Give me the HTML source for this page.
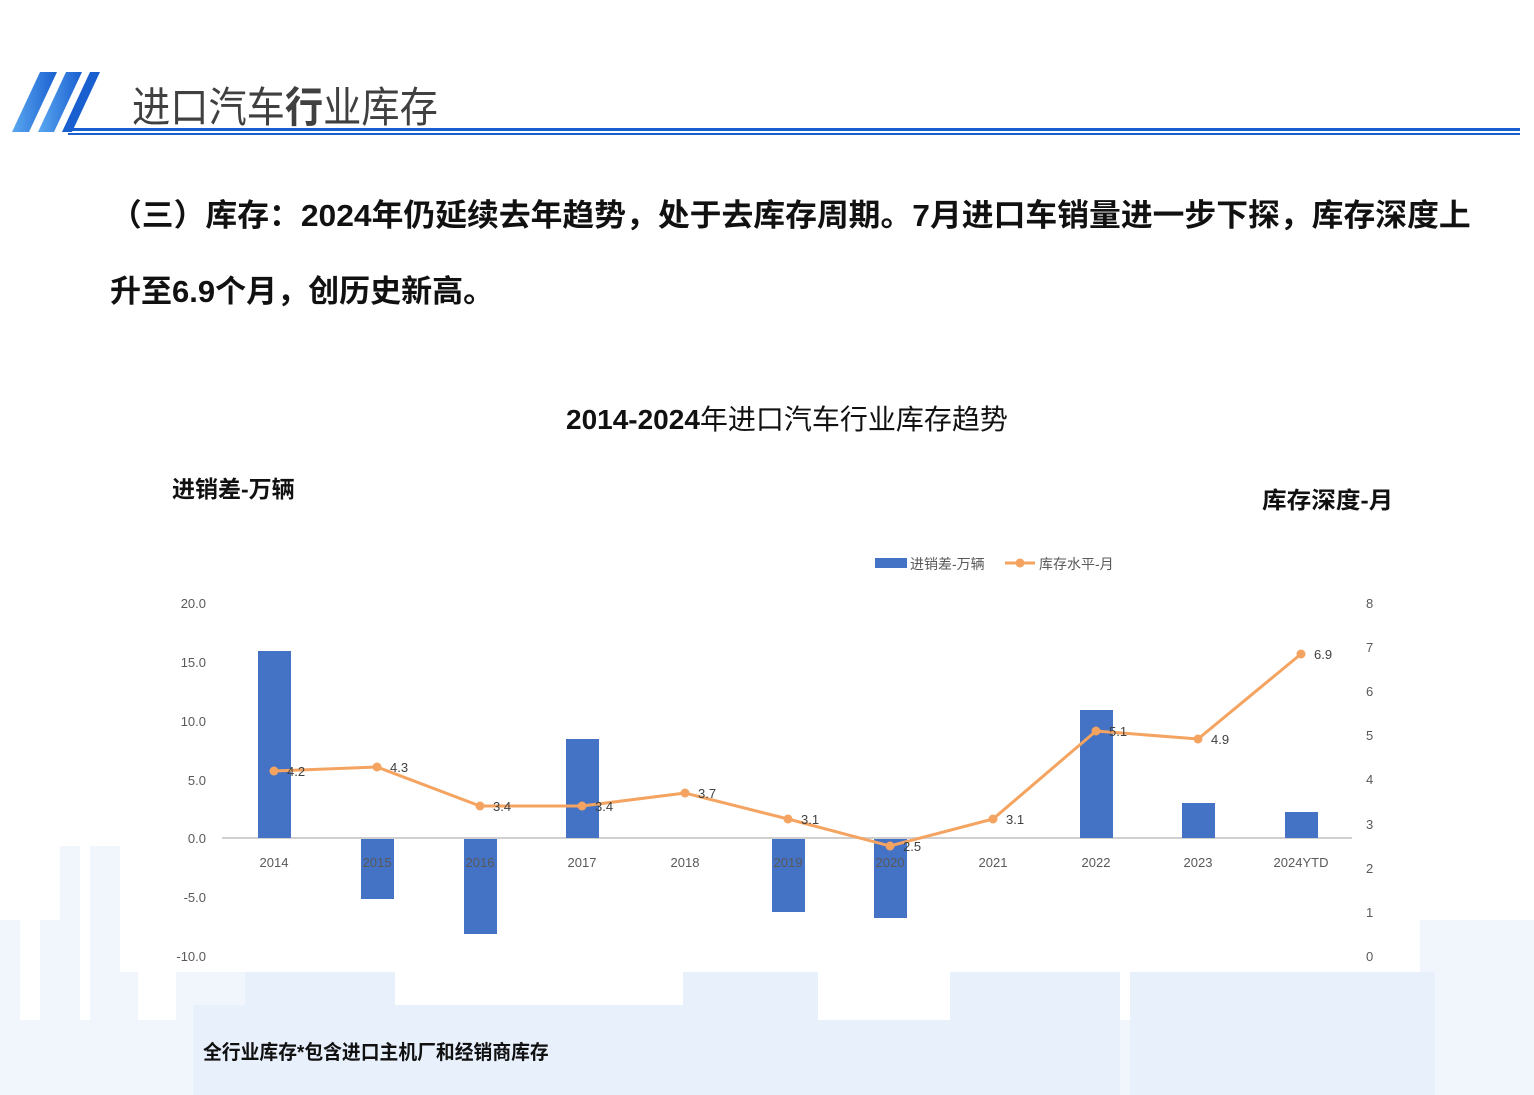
<!DOCTYPE html>
<html><head><meta charset="utf-8"><style>
body{margin:0;width:1534px;height:1095px;background:#fff;overflow:hidden;font-family:"Liberation Sans","Noto Sans CJK SC",sans-serif;position:relative}
.t{position:absolute;white-space:nowrap;transform-origin:0 0}
</style></head><body>
<svg width="1534" height="1095" style="position:absolute;left:0;top:0">
<defs><linearGradient id="g" x1="0" x2="1"><stop offset="0" stop-color="#5aa8f0"/><stop offset="1" stop-color="#1a5fd0"/></linearGradient></defs>
<g fill="#f1f6fd">
<rect x="0" y="920" width="20" height="175"/><rect x="40" y="920" width="20" height="175"/>
<rect x="60" y="846" width="20" height="249"/><rect x="90" y="846" width="30" height="249"/>
<rect x="0" y="1020" width="1534" height="75"/>
<rect x="98" y="972" width="40" height="123"/><rect x="176" y="972" width="120" height="123"/>
<rect x="1420" y="920" width="114" height="175"/><rect x="1350" y="980" width="80" height="115"/>
</g>
<g fill="#e8f0fc">
<rect x="245" y="972" width="150" height="123"/><rect x="193" y="1005" width="160" height="90"/>
<rect x="395" y="1005" width="210" height="90"/>
<rect x="420" y="1005" width="300" height="90"/><rect x="683" y="972" width="135" height="123"/>
<rect x="818" y="1020" width="140" height="75"/><rect x="950" y="972" width="170" height="123"/>
<rect x="1130" y="972" width="230" height="123"/><rect x="1225" y="972" width="210" height="123"/>
</g>
<polygon points="12,132 40,72 57,72 29,132" fill="url(#g)"/>
<polygon points="38,132 66,72 82,72 54,132" fill="url(#g)"/>
<polygon points="62,132 90,72 100,72 72,132" fill="#1a5fd0"/>
<rect x="68" y="128" width="1452" height="3" fill="#1a5fd0"/>
<rect x="68" y="133" width="1452" height="2" fill="#1a5fd0"/>
<line x1="222" y1="838" x2="1352" y2="838" stroke="#d0d0d0" stroke-width="2"/>
<g fill="#4472c4">
<rect x="258" y="651" width="33" height="187"/>
<rect x="361" y="839" width="33" height="60"/>
<rect x="464" y="839" width="33" height="95"/>
<rect x="566" y="739" width="33" height="99"/>
<rect x="772" y="839" width="33" height="73"/>
<rect x="874" y="839" width="33" height="79"/>
<rect x="1080" y="710" width="33" height="128"/>
<rect x="1182" y="803" width="33" height="35"/>
<rect x="1285" y="812" width="33" height="26"/>
</g>
<polyline fill="none" stroke="#f4a460" stroke-width="3" points="274,771 377,767 480,806 582,806 685,793 788,819 890,846 993,819 1096,731 1198,739 1301,654"/>
<g fill="#f4a460">
<circle cx="274" cy="771" r="4.5"/><circle cx="377" cy="767" r="4.5"/><circle cx="480" cy="806" r="4.5"/><circle cx="582" cy="806" r="4.5"/><circle cx="685" cy="793" r="4.5"/><circle cx="788" cy="819" r="4.5"/><circle cx="890" cy="846" r="4.5"/><circle cx="993" cy="819" r="4.5"/><circle cx="1096" cy="731" r="4.5"/><circle cx="1198" cy="739" r="4.5"/><circle cx="1301" cy="654" r="4.5"/>
</g>
<g font-size="13" fill="#404040" font-family="Liberation Sans,sans-serif">
<text x="287" y="776">4.2</text><text x="390" y="772">4.3</text><text x="493" y="811">3.4</text><text x="595" y="811">3.4</text><text x="698" y="798">3.7</text><text x="801" y="824">3.1</text><text x="903" y="851">2.5</text><text x="1006" y="824">3.1</text><text x="1109" y="736">5.1</text><text x="1211" y="744">4.9</text><text x="1314" y="659">6.9</text>
</g>
<g font-size="13" fill="#595959" text-anchor="middle" font-family="Liberation Sans,sans-serif">
<text x="274" y="867">2014</text><text x="377" y="867">2015</text><text x="480" y="867">2016</text><text x="582" y="867">2017</text><text x="685" y="867">2018</text><text x="788" y="867">2019</text><text x="890" y="867">2020</text><text x="993" y="867">2021</text><text x="1096" y="867">2022</text><text x="1198" y="867">2023</text><text x="1301" y="867">2024YTD</text>
</g>
<g font-size="13" fill="#595959" text-anchor="end" font-family="Liberation Sans,sans-serif">
<text x="206" y="608">20.0</text><text x="206" y="667">15.0</text><text x="206" y="726">10.0</text><text x="206" y="785">5.0</text><text x="206" y="843">0.0</text><text x="206" y="902">-5.0</text><text x="206" y="961">-10.0</text>
</g>
<g font-size="13" fill="#595959" font-family="Liberation Sans,sans-serif">
<text x="1366" y="608">8</text><text x="1366" y="652">7</text><text x="1366" y="696">6</text><text x="1366" y="740">5</text><text x="1366" y="784">4</text><text x="1366" y="829">3</text><text x="1366" y="873">2</text><text x="1366" y="917">1</text><text x="1366" y="961">0</text>
</g>
<rect x="875" y="558" width="32" height="10" fill="#4472c4"/>
<line x1="1005" y1="563" x2="1035" y2="563" stroke="#f4a460" stroke-width="3"/><circle cx="1020" cy="563" r="4.5" fill="#f4a460"/>
</svg>
<div class="t" style="left:910px;top:554px;font-size:14px;color:#595959">进销差-万辆</div>
<div class="t" style="left:1039px;top:554px;font-size:14px;color:#595959">库存水平-月</div>
<div class="t" style="left:132px;top:74px;font-size:42px;color:#404040;transform:scaleX(0.91)">进口汽车<b>行</b>业库存</div>
<div class="t" style="left:110px;top:190px;font-size:31px;font-weight:bold;color:#111;transform:scaleX(1.026)">（三）库存：2024年仍延续去年趋势，处于去库存周期。7月进口车销量进一步下探，库存深度上</div>
<div class="t" style="left:110px;top:266px;font-size:31px;font-weight:bold;color:#111">升至6.9个月，创历史新高。</div>
<div class="t" style="left:566px;top:398px;font-size:28px;color:#111"><b>2014-2024</b>年进口汽车行业库存趋势</div>
<div class="t" style="left:172px;top:470px;font-size:23px;font-weight:bold;color:#111">进销差-万辆</div>
<div class="t" style="left:1262px;top:481px;font-size:23px;font-weight:bold;color:#111;transform:scaleX(1.07)">库存深度-月</div>
<div class="t" style="left:203px;top:1036px;font-size:20px;font-weight:bold;color:#111;transform:scaleX(0.94)">全行业库存*包含进口主机厂和经销商库存</div>
</body></html>
